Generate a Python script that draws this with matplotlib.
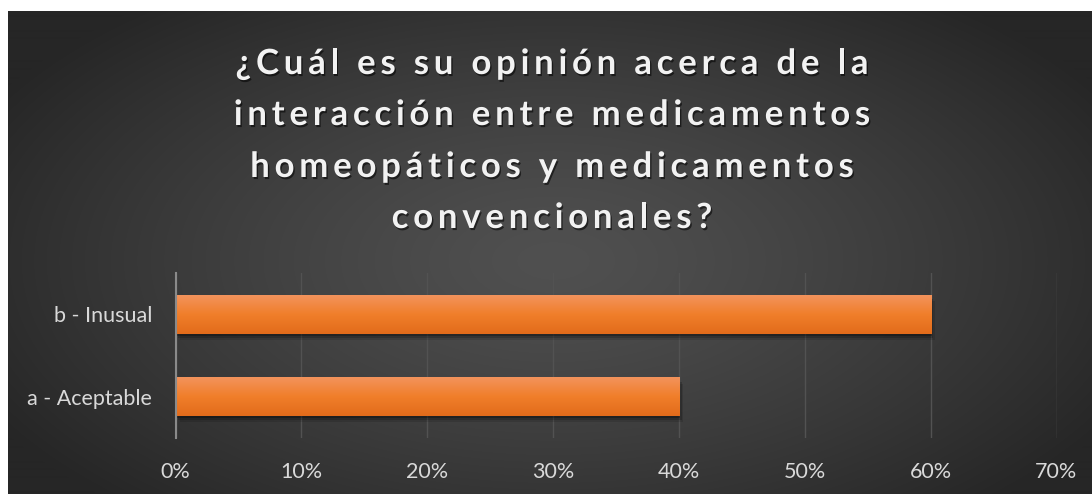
import numpy as np
import matplotlib
matplotlib.use("Agg")
import matplotlib.pyplot as plt
import matplotlib.patheffects as pe
from matplotlib.font_manager import FontProperties
from matplotlib.ticker import FuncFormatter

# data
categories = ["a - Aceptable", "b - Inusual"]
values = [0.40, 0.60]
x_ticks = [0.0, 0.1, 0.2, 0.3, 0.4, 0.5, 0.6, 0.7]
title_lines = [
    "¿Cuál es su opinión acerca de la",
    "interacción entre medicamentos",
    "homeopáticos y medicamentos",
    "convencionales?",
]

W, H = 1092, 494
fig = plt.figure(figsize=(W / 100, H / 100), dpi=100, facecolor="white")

# dark radial background (white strip left/top like the screenshot)
bg = fig.add_axes([8 / W, 0, 1 - 8 / W, (H - 11) / H])
bg.axis("off")
gx, gy = np.meshgrid(np.arange(W - 8), np.arange(H - 11))
r = np.sqrt(((gx - 545) / 640.0) ** 2 + ((gy - 250) / 330.0) ** 2)
r = np.clip(r, 0, 1)
c_mid = np.array([0x50, 0x50, 0x50]) / 255
c_edge = np.array([0x26, 0x26, 0x26]) / 255
img = c_mid[None, None, :] + (c_edge - c_mid)[None, None, :] * r[..., None] ** 1.3
bg.imshow(img, aspect="auto", interpolation="bilinear")

# plot area
ax = fig.add_axes([175.5 / W, (H - 438) / H, (1056.5 - 175.5) / W, (438 - 273) / H])
ax.set_facecolor("none")
bar_shadow = [pe.SimplePatchShadow(offset=(3, -4.5), shadow_rgbFace="black", alpha=0.12),
              pe.SimplePatchShadow(offset=(2, -3), shadow_rgbFace="black", alpha=0.18),
              pe.SimplePatchShadow(offset=(1, -1.5), shadow_rgbFace="black", alpha=0.25),
              pe.Normal()]
bars = ax.barh(categories, values, height=0.47, color="#ED7D31", zorder=3, path_effects=bar_shadow)

# vertical gradient on each bar
top_c = np.array([0xF3, 0x93, 0x5C]) / 255
mid_c = np.array([0xF0, 0x7E, 0x2A]) / 255
bot_c = np.array([0xE2, 0x6B, 0x1B]) / 255
t = np.linspace(0, 1, 64)[:, None]
grad = np.where(t < 0.5, bot_c + (mid_c - bot_c) * (t / 0.5), mid_c + (top_c - mid_c) * ((t - 0.5) / 0.5))
grad = grad[:, None, :]
for b in bars:
    im = ax.imshow(grad, extent=[b.get_x(), b.get_x() + b.get_width(), b.get_y(), b.get_y() + b.get_height()],
                   origin="lower", aspect="auto", zorder=4, interpolation="bilinear")
    im.set_clip_path(b)

ax.set_xlim(0, 0.7)
ax.set_ylim(-0.5, 1.5)
ax.set_xticks(x_ticks)
ax.xaxis.set_major_formatter(FuncFormatter(lambda v, p: f"{int(round(v * 100))}%"))
ax.grid(axis="x", color="#525252", linewidth=1, zorder=0)
ax.set_axisbelow(True)
for s in ["top", "right", "bottom"]:
    ax.spines[s].set_visible(False)
ax.spines["left"].set_color("#8a8a8a")
ax.spines["left"].set_linewidth(1.5)
ax.spines["left"].set_zorder(5)
ax.tick_params(axis="both", length=0, colors="#d9d9d9", labelsize=15.5)
ax.tick_params(axis="x", pad=17)
ax.tick_params(axis="y", pad=17)
for lab in ax.get_xticklabels() + ax.get_yticklabels():
    lab.set_family("Lato")

# title, drawn letter by letter to get the wide tracking
fp = FontProperties(family="Lato", weight="bold", size=25)
renderer = fig.canvas.get_renderer()


def text_w(s):
    return renderer.get_text_width_height_descent(s, fp, ismath=False)[0]


def char_w(ch):
    return text_w("|" + ch + "|") - text_w("||")


natural = sum(char_w(c) for c in title_lines[0])
spacing = (633 - natural) / (len(title_lines[0]) - 1)
shadow = [pe.withSimplePatchShadow(offset=(1, -1.5), shadow_rgbFace="black", alpha=0.55)]
baselines = [74, 125, 177, 228]
for line, base in zip(title_lines, baselines):
    widths = [char_w(c) for c in line]
    total = sum(widths) + spacing * (len(line) - 1)
    x = 552 - total / 2
    for ch, w in zip(line, widths):
        if ch != " ":
            fig.text(x / W, 1 - base / H, ch, fontproperties=fp, color="#f2f2f2",
                     va="baseline", ha="left", path_effects=shadow)
        x += w + spacing

fig.savefig("out.png", dpi=100, facecolor=fig.get_facecolor())
